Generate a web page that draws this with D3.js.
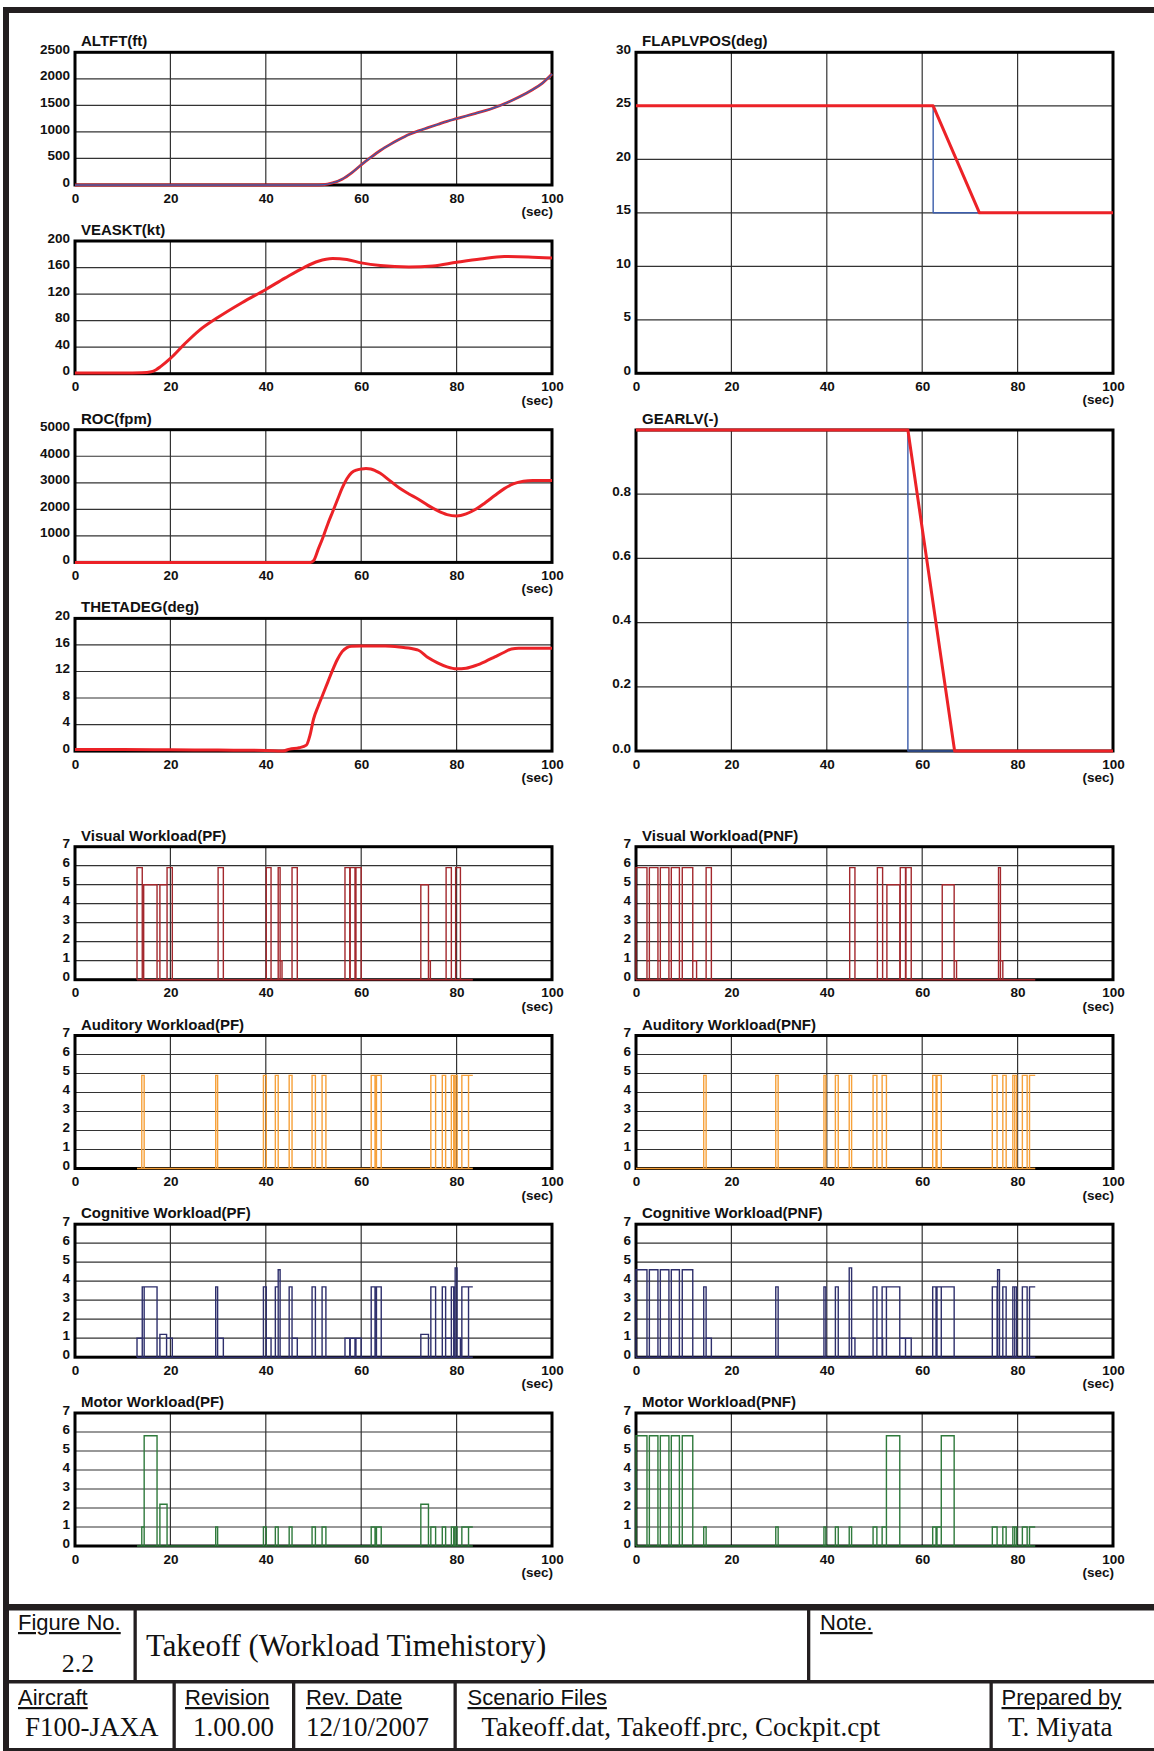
<!DOCTYPE html>
<html><head><meta charset="utf-8">
<script src="https://cdn.jsdelivr.net/npm/d3@7"></script>
<style>
body{margin:0;background:#fff}
svg{display:block;background:#fff}
.tick text{font-family:"Liberation Sans",Arial,sans-serif;font-weight:bold;font-size:13.5px;fill:#111}
.ptitle{font-family:"Liberation Sans",Arial,sans-serif;font-weight:bold;font-size:15px;fill:#111}
.unit{font-family:"Liberation Sans",Arial,sans-serif;font-weight:bold;font-size:13.5px;fill:#111}
.lbl{font-family:"Liberation Sans",Arial,sans-serif;font-size:22px;fill:#111;text-decoration:underline}
.val{font-family:"Liberation Serif","Times New Roman",serif;fill:#111}
</style></head><body>
<svg id="chart" width="1154" height="1751"></svg>
<script>
// ---------- data ----------
const timeTicks = [0, 20, 40, 60, 80, 100];

const altftTicks = [0, 500, 1000, 1500, 2000, 2500];
const altft = [[0,0],[50,0],[52,5],[54,40],[56,110],[58,230],[60,380],[62,520],[64,650],[66,760],[68,860],[70,950],[72,1020],[74,1080],[76,1140],[78,1200],[80,1250],[82,1300],[84,1350],[86,1400],[88,1460],[90,1530],[92,1610],[94,1700],[96,1800],[98,1920],[100,2090]];

const veasktTicks = [0, 40, 80, 120, 160, 200];
const veaskt = [[0,1],[10,1],[14,1.5],[16,3],[17,6],[18,11],[20,23],[23,45],[26,65],[30,85],[35,107],[40,127],[44,144],[48,160],[51,169.5],[54,173.5],[57,172],[60,167],[64,163],[70,161],[75,162.5],[80,168],[85,173],[90,176.5],[95,176],[100,174.5]];

const rocTicks = [0, 1000, 2000, 3000, 4000, 5000];
const roc = [[0,0],[49.4,0],[50,60],[51,500],[52,950],[53,1450],[54,1900],[55,2350],[56,2800],[57,3150],[58,3380],[59,3480],[60,3520],[61,3540],[62,3520],[63,3450],[64,3360],[66,3080],[68,2800],[70,2580],[72,2380],[74,2150],[76,1950],[78,1800],[80,1750],[82,1830],[84,2000],[86,2250],[88,2520],[90,2780],[92,2970],[94,3060],[96,3090],[100,3090]];

const thetaTicks = [0, 4, 8, 12, 16, 20];
const theta = [[0,0.25],[10,0.25],[20,0.2],[30,0.15],[40,0.1],[43.5,0],[45,0.3],[47,0.5],[48.5,0.9],[49.3,2.5],[50,4.8],[51,6.8],[52,8.6],[53,10.4],[54,12.2],[55,13.8],[56,15],[57,15.6],[58,15.8],[60,15.85],[65,15.85],[68,15.7],[71,15.4],[72,15.2],[74,14.1],[76,13.3],[78,12.7],[80,12.4],[82,12.5],[84,12.9],[86,13.5],[88,14.2],[90,14.9],[91.5,15.4],[93,15.5],[100,15.5]];

const flapTicks = [0, 5, 10, 15, 20, 25, 30];
const flapPos = [[0,25],[62.3,25],[72,15],[100,15]];
const flapCmd = [[0,25],[62.3,25],[62.3,15],[100,15]];

const gearTicks = [0, 0.2, 0.4, 0.6, 0.8];
const gearPos = [[0,1],[57,1],[66.8,0],[100,0]];
const gearCmd = [[0,1],[57,1],[57,0],[100,0]];

const workloadTicks = [0, 1, 2, 3, 4, 5, 6, 7];
// [start, end, value]
const visualPF = [[13.0,14.1,5.9],[14.4,17.2,5],[17.2,17.8,1],[17.8,19.3,5],[19.3,20.4,5.9],[30.0,31.1,5.9],[40.1,41.1,5.9],[42.6,43.0,5.9],[43.0,43.4,1],[45.5,46.6,5.9],[56.6,57.6,5.9],[57.7,58.7,5.9],[58.9,60.0,5.9],[72.5,74.1,5],[74.1,74.5,1],[77.8,78.9,5.9],[79.8,80.8,5.9]];
const visualPNF = [[0,2.3,5.9],[2.3,2.8,1],[2.8,4.6,5.9],[4.6,5.1,1],[5.1,6.9,5.9],[6.9,7.4,1],[7.4,9.1,5.9],[9.1,9.7,1],[9.7,11.9,5.9],[11.9,12.7,1],[14.7,15.8,5.9],[44.8,45.9,5.9],[50.6,51.7,5.9],[52.6,55.3,5],[55.4,56.5,5.9],[56.6,57.7,5.9],[64.2,66.7,5],[66.7,67.2,1],[76.0,76.4,5.9],[76.4,76.9,1]];
const auditoryPF = [[14.0,14.5,4.9],[29.5,29.9,4.9],[39.5,40.1,4.9],[42.0,42.6,4.9],[44.9,45.5,4.9],[49.7,50.4,4.9],[51.8,52.6,4.9],[62.1,62.9,4.9],[63.2,64.2,4.9],[74.6,75.6,4.9],[77.0,77.7,4.9],[78.9,79.4,4.9],[79.7,80.1,4.9],[81.1,82.5,4.9],[82.5,83.4,4.9]];
const auditoryPNF = [[14.2,14.7,4.9],[29.3,29.8,4.9],[39.4,39.8,4.9],[41.8,42.4,4.9],[44.7,45.2,4.9],[49.7,50.5,4.9],[51.6,52.5,4.9],[62.2,62.9,4.9],[63.1,64.0,4.9],[74.7,75.7,4.9],[76.9,77.6,4.9],[79.0,79.4,4.9],[79.4,79.8,4.9],[81.0,82.0,4.9],[82.5,83.7,4.9]];
const cognitivePF = [[13.0,14.1,1],[14.1,14.5,3.7],[14.5,17.2,3.7],[17.8,19.2,1.2],[19.2,20.4,1],[29.5,29.9,3.7],[29.9,31.1,1],[39.5,40.1,3.7],[40.1,41.1,1],[42.0,42.6,3.7],[42.6,43.0,4.6],[44.9,45.5,3.7],[45.5,46.6,1],[49.7,50.4,3.7],[51.8,52.6,3.7],[56.6,57.6,1],[57.7,58.7,1],[58.9,60.0,1],[62.1,62.9,3.7],[63.2,64.2,3.7],[72.5,74.1,1.2],[74.6,75.6,3.7],[77.0,77.7,3.7],[77.7,78.9,1],[78.9,79.4,3.7],[79.7,80.1,4.7],[80.1,80.8,1],[81.1,82.5,3.7],[82.5,83.4,3.7]];
const cognitivePNF = [[0,2.3,4.6],[2.8,4.6,4.6],[5.1,6.9,4.6],[7.4,9.1,4.6],[9.7,11.9,4.6],[14.2,14.7,3.7],[14.7,15.8,1],[29.3,29.8,3.7],[39.4,39.8,3.7],[41.8,42.4,3.7],[44.7,45.2,4.7],[45.2,45.9,1],[49.7,50.5,3.7],[50.5,51.7,1],[51.6,52.5,3.7],[52.5,55.3,3.7],[55.3,56.5,1],[56.5,57.7,1],[62.2,62.9,3.7],[63.1,64.0,3.7],[64.0,66.7,3.7],[74.7,75.7,3.7],[75.8,76.2,4.6],[76.9,77.6,3.7],[79.0,79.4,3.7],[79.4,79.8,3.7],[81.0,82.0,3.7],[82.5,83.7,3.7]];
const motorPF = [[14.0,14.5,1],[14.5,17.2,5.8],[17.8,19.3,2.2],[29.5,29.9,1],[39.5,40.1,1],[42.0,42.6,1],[44.9,45.5,1],[49.7,50.4,1],[51.8,52.6,1],[62.1,62.9,1],[63.2,64.2,1],[72.5,74.1,2.2],[74.6,75.6,1],[77.0,77.7,1],[78.9,79.4,1],[79.7,80.1,1],[81.1,82.5,1],[82.5,83.4,1]];
const motorPNF = [[0,2.3,5.8],[2.8,4.6,5.8],[5.1,6.9,5.8],[7.4,9.1,5.8],[9.7,11.9,5.8],[14.2,14.7,1],[29.3,29.8,1],[39.4,39.8,1],[41.8,42.4,1],[44.7,45.2,1],[49.7,50.5,1],[51.6,52.5,1],[52.5,55.3,5.8],[62.2,62.9,1],[63.1,64.0,1],[64.0,66.7,5.8],[74.7,75.7,1],[76.9,77.6,1],[79.0,79.4,1],[79.4,79.8,1],[81.0,82.0,1],[82.5,83.7,1]];
const pfSpan = [13.0, 83.4];
const pnfSpan = [0, 83.7];

// ---------- drawing ----------
const svg = d3.select("#chart");
const W = 477;
const COLX = [75, 636];
const RED = "#ec2227", BLUE = "#3b5dab", FRAME = "#231f20";

function panel(cfg) {
  const g = svg.append("g");
  const x = d3.scaleLinear().domain([0, 100]).range([cfg.x, cfg.x + W]);
  const y = d3.scaleLinear().domain(cfg.domain).range([cfg.y + cfg.h, cfg.y]);
  g.selectAll("line.vg").data(timeTicks.slice(1, -1)).join("line").attr("class", "vg")
    .attr("x1", d => x(d)).attr("x2", d => x(d)).attr("y1", cfg.y).attr("y2", cfg.y + cfg.h)
    .attr("stroke", "#333").attr("stroke-width", 1.2);
  g.selectAll("line.hg").data(cfg.grid).join("line").attr("class", "hg")
    .attr("x1", cfg.x).attr("x2", cfg.x + W).attr("y1", d => y(d)).attr("y2", d => y(d))
    .attr("stroke", "#333").attr("stroke-width", 1.2);
  g.append("rect").attr("x", cfg.x).attr("y", cfg.y).attr("width", W).attr("height", cfg.h)
    .attr("fill", "none").attr("stroke", "#000").attr("stroke-width", 3);
  g.append("g").attr("transform", `translate(${cfg.x},0)`)
    .call(d3.axisLeft(y).tickValues(cfg.ticks).tickSize(0).tickPadding(5).tickFormat(cfg.fmt || d3.format("d")))
    .call(s => s.select(".domain").remove())
    .call(s => s.selectAll("text").attr("dy", "0.08em"));
  g.append("g").attr("transform", `translate(0,${cfg.y + cfg.h})`)
    .call(d3.axisBottom(x).tickValues(timeTicks).tickSize(0).tickPadding(8).tickFormat(d3.format("d")))
    .call(s => s.select(".domain").remove());
  g.append("text").attr("class", "unit").attr("text-anchor", "end")
    .attr("x", cfg.x + W + 1).attr("y", cfg.y + cfg.h + 31).text("(sec)");
  g.append("text").attr("class", "ptitle").attr("x", cfg.x + 6).attr("y", cfg.y - 6).text(cfg.title);
  return { g, x, y };
}

function linePanel(cfg) {
  const p = panel(cfg);
  cfg.series.forEach(s => {
    const line = d3.line().x(d => p.x(d[0])).y(d => p.y(d[1]))
      .curve(s.smooth ? d3.curveMonotoneX : d3.curveLinear);
    p.g.append("path").datum(s.data).attr("d", line).attr("fill", "none")
      .attr("stroke", s.color).attr("stroke-width", s.width)
      .attr("stroke-linejoin", "round").attr("stroke-linecap", "butt");
  });
}

function workloadPanel(cfg) {
  const p = panel(Object.assign({ domain: [0, 7], ticks: workloadTicks, grid: [1, 2, 3, 4, 5, 6] }, cfg));
  const [s0, s1] = cfg.span;
  p.g.append("line").attr("x1", p.x(s0)).attr("x2", p.x(s1)).attr("y1", p.y(0)).attr("y2", p.y(0))
    .attr("stroke", cfg.color).attr("stroke-width", 1.6);
  const path = d3.path();
  cfg.bars.forEach(([a, b, v]) => {
    path.moveTo(p.x(a), p.y(0));
    path.lineTo(p.x(a), p.y(v));
    path.lineTo(p.x(b), p.y(v));
    if (b < s1) path.lineTo(p.x(b), p.y(0));
  });
  p.g.append("path").attr("d", path.toString()).attr("fill", "none")
    .attr("stroke", cfg.color).attr("stroke-width", 1.4);
}

const topRows = [52.3, 241, 429.7, 618.4], topH = 132.7;
linePanel({ x: COLX[0], y: topRows[0], h: topH, domain: [0, 2500], ticks: altftTicks, grid: altftTicks.slice(1, -1), title: "ALTFT(ft)",
  series: [{ data: altft, color: RED, width: 2.8, smooth: true }, { data: altft, color: BLUE, width: 1.4, smooth: true }] });
linePanel({ x: COLX[0], y: topRows[1], h: topH, domain: [0, 200], ticks: veasktTicks, grid: veasktTicks.slice(1, -1), title: "VEASKT(kt)",
  series: [{ data: veaskt, color: RED, width: 3, smooth: true }] });
linePanel({ x: COLX[0], y: topRows[2], h: topH, domain: [0, 5000], ticks: rocTicks, grid: rocTicks.slice(1, -1), title: "ROC(fpm)",
  series: [{ data: roc, color: RED, width: 3, smooth: true }] });
linePanel({ x: COLX[0], y: topRows[3], h: topH, domain: [0, 20], ticks: thetaTicks, grid: thetaTicks.slice(1, -1), title: "THETADEG(deg)",
  series: [{ data: theta, color: RED, width: 3, smooth: true }] });
linePanel({ x: COLX[1], y: 52.3, h: 321, domain: [0, 30], ticks: flapTicks, grid: flapTicks.slice(1, -1), title: "FLAPLVPOS(deg)",
  series: [{ data: flapCmd, color: BLUE, width: 1.4 }, { data: flapPos, color: RED, width: 3 }] });
linePanel({ x: COLX[1], y: 430, h: 321, domain: [0, 1], ticks: gearTicks, grid: [0.2, 0.4, 0.6, 0.8], fmt: d3.format(".1f"), title: "GEARLV(-)",
  series: [{ data: gearCmd, color: BLUE, width: 1.4 }, { data: gearPos, color: RED, width: 3 }] });

const wlRows = [846.7, 1035.5, 1224.2, 1413], wlH = 133;
const VIS = "#a3282d", AUD = "#f6a13a", COG = "#2e2f6c", MOT = "#2f7a3c";
workloadPanel({ x: COLX[0], y: wlRows[0], h: wlH, title: "Visual Workload(PF)", bars: visualPF, span: pfSpan, color: VIS });
workloadPanel({ x: COLX[1], y: wlRows[0], h: wlH, title: "Visual Workload(PNF)", bars: visualPNF, span: pnfSpan, color: VIS });
workloadPanel({ x: COLX[0], y: wlRows[1], h: wlH, title: "Auditory Workload(PF)", bars: auditoryPF, span: pfSpan, color: AUD });
workloadPanel({ x: COLX[1], y: wlRows[1], h: wlH, title: "Auditory Workload(PNF)", bars: auditoryPNF, span: pnfSpan, color: AUD });
workloadPanel({ x: COLX[0], y: wlRows[2], h: wlH, title: "Cognitive Workload(PF)", bars: cognitivePF, span: pfSpan, color: COG });
workloadPanel({ x: COLX[1], y: wlRows[2], h: wlH, title: "Cognitive Workload(PNF)", bars: cognitivePNF, span: pnfSpan, color: COG });
workloadPanel({ x: COLX[0], y: wlRows[3], h: wlH, title: "Motor Workload(PF)", bars: motorPF, span: pfSpan, color: MOT });
workloadPanel({ x: COLX[1], y: wlRows[3], h: wlH, title: "Motor Workload(PNF)", bars: motorPNF, span: pnfSpan, color: MOT });

// ---------- frame and title block ----------
const fr = svg.append("g").attr("fill", FRAME);
fr.append("rect").attr("x", 3).attr("y", 7).attr("width", 1160).attr("height", 6);
fr.append("rect").attr("x", 3).attr("y", 7).attr("width", 6).attr("height", 1750);
fr.append("rect").attr("x", 3).attr("y", 1604).attr("width", 1160).attr("height", 6.5);
fr.append("rect").attr("x", 3).attr("y", 1680).attr("width", 1160).attr("height", 3.5);
fr.append("rect").attr("x", 3).attr("y", 1748).attr("width", 1160).attr("height", 3.5);
[133.5, 807].forEach(v => fr.append("rect").attr("x", v).attr("y", 1610).attr("width", 3.3).attr("height", 71));
[172.5, 292, 453.5, 989.5].forEach(v => fr.append("rect").attr("x", v).attr("y", 1683).attr("width", 3.3).attr("height", 66));

const tb = svg.append("g");
const labels = [["Figure No.", 18, 1630], ["Note.", 820, 1630], ["Aircraft", 18, 1705], ["Revision", 185, 1705], ["Rev. Date", 306, 1705], ["Scenario Files", 467.5, 1705], ["Prepared by", 1001.5, 1705]];
labels.forEach(([t, x, y]) => tb.append("text").attr("class", "lbl").attr("x", x).attr("y", y).text(t));
tb.append("text").attr("class", "val").attr("x", 78).attr("y", 1672).attr("text-anchor", "middle").attr("font-size", 26).text("2.2");
tb.append("text").attr("class", "val").attr("x", 146).attr("y", 1656).attr("font-size", 30.8).text("Takeoff (Workload Timehistory)");
const vals = [["F100-JAXA", 25], ["1.00.00", 193], ["12/10/2007", 306], ["Takeoff.dat, Takeoff.prc, Cockpit.cpt", 481.5], ["T. Miyata", 1008]];
vals.forEach(([t, x]) => tb.append("text").attr("class", "val").attr("x", x).attr("y", 1736).attr("font-size", 27).text(t));
</script>
</body></html>
